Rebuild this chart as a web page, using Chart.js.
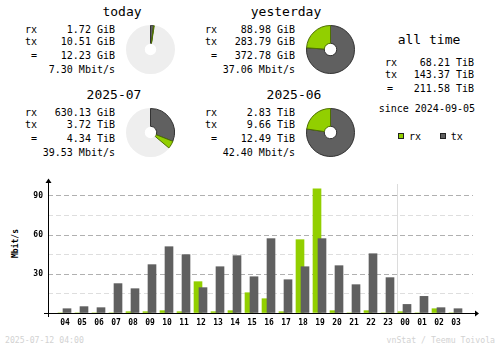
<!DOCTYPE html>
<html>
<head>
<meta charset="utf-8">
<script src="https://cdn.jsdelivr.net/npm/chart.js@4.4.1/dist/chart.umd.min.js"></script>
<style>
html, body { margin: 0; padding: 0; background: #fff; }
#wrap { position: relative; width: 500px; height: 348px; overflow: hidden; }
#wrap canvas, #wrap svg { position: absolute; }
#bars { left: 0; top: 170px; }
svg text { font-family: 'DejaVu Sans Mono', monospace; }
</style>
</head>
<body>
<div id="wrap">
  <svg id="labels" width="500" height="348" style="left:0;top:0"></svg>
  <canvas id="pie0" width="55" height="55" style="left:123px;top:22px"></canvas>
  <canvas id="pie1" width="55" height="55" style="left:303px;top:22px"></canvas>
  <canvas id="pie2" width="55" height="55" style="left:123px;top:105px"></canvas>
  <canvas id="pie3" width="55" height="55" style="left:303px;top:105px"></canvas>
  <canvas id="bars" width="500" height="160"></canvas>
</div>
<script>
// summary boxes
const periods = ['today', 'yesterday', '2025-07', '2025-06'];
const rxText = ['1.72 GiB', '88.98 GiB', '630.13 GiB', '2.83 TiB'];
const txText = ['10.51 GiB', '283.79 GiB', '3.72 TiB', '9.66 TiB'];
const totalText = ['12.23 GiB', '372.78 GiB', '4.34 TiB', '12.49 TiB'];
const rateText = ['7.30 Mbit/s', '37.06 Mbit/s', '39.53 Mbit/s', '42.40 Mbit/s'];
// same values in GiB for the rings
const rxGiB = [1.72, 88.98, 630.13, 2897.92];
const txGiB = [10.51, 283.79, 3809.28, 9891.84];
// how much of the ring is used (degrees)
const pieSpan = [9, 360, 130, 360];

const allTimeLabels = ['rx', 'tx', '='];
const allTimeText = ['68.21 TiB', '143.37 TiB', '211.58 TiB'];
const sinceDate = '2024-09-05';

// hourly bars, Mbit/s
const hours = ['04', '05', '06', '07', '08', '09', '10', '11', '12', '13', '14', '15',
               '16', '17', '18', '19', '20', '21', '22', '23', '00', '01', '02', '03'];
const rxRate = [0, 0, 0, 0, 1.0, 1.0, 1.8, 1.0, 24.1, 1.0, 1.8, 15.6,
                11.0, 1.0, 56.4, 95.6, 1.8, 0, 1.8, 0, 1.0, 0, 3.3, 0];
const txRate = [3.3, 4.9, 4.1, 22.6, 18.7, 37.2, 51.0, 44.9, 19.5, 35.6, 44.1, 27.9,
                57.2, 25.6, 35.6, 57.2, 36.4, 21.8, 45.6, 27.2, 6.6, 12.8, 4.1, 3.3];
const yTicks = [30, 60, 90];

const RX = '#92cf00', TX = '#606060';
const MONO = "'DejaVu Sans Mono', monospace";
Chart.defaults.font.family = MONO;
Chart.defaults.color = '#000';

// ---- text ----
const svg = document.getElementById('labels');
function txt(s, x, y, opts) {
    opts = opts || {};
    const t = document.createElementNS('http://www.w3.org/2000/svg', 'text');
    t.setAttribute('x', x);
    t.setAttribute('y', y);
    t.setAttribute('font-size', opts.size || 10);
    t.setAttribute('fill', opts.color || '#000');
    if (opts.anchor) t.setAttribute('text-anchor', opts.anchor);
    if (opts.weight) t.setAttribute('font-weight', opts.weight);
    if (opts.transform) t.setAttribute('transform', opts.transform);
    t.textContent = s;
    svg.appendChild(t);
    return t;
}
function rect(x, y, w, h, fill, stroke) {
    const r = document.createElementNS('http://www.w3.org/2000/svg', 'rect');
    r.setAttribute('x', x); r.setAttribute('y', y);
    r.setAttribute('width', w); r.setAttribute('height', h);
    r.setAttribute('fill', fill); r.setAttribute('stroke', stroke);
    svg.appendChild(r);
}

const boxPos = [
    { cx: 122, lab: 37, val: 115, top: 0 },
    { cx: 286, lab: 217, val: 295, top: 0 },
    { cx: 114, lab: 37, val: 115, top: 83 },
    { cx: 294, lab: 217, val: 295, top: 83 }
];
periods.forEach(function (p, i) {
    const b = boxPos[i];
    txt(p, b.cx, 16.3 + b.top, { size: 13, anchor: 'middle' });
    txt('rx', b.lab, 32.5 + b.top, { anchor: 'end' });
    txt(rxText[i], b.val, 32.5 + b.top, { anchor: 'end' });
    txt('tx', b.lab, 45 + b.top, { anchor: 'end' });
    txt(txText[i], b.val, 45 + b.top, { anchor: 'end' });
    txt('=', b.lab, 58.5 + b.top, { anchor: 'end' });
    txt(totalText[i], b.val, 58.5 + b.top, { anchor: 'end' });
    txt(rateText[i], b.val, 72.5 + b.top, { anchor: 'end' });
});

txt('all time', 429, 44.3, { size: 13, anchor: 'middle' });
const allY = [66, 78, 91.7];
allTimeLabels.forEach(function (l, i) {
    txt(l, i === 2 ? 387 : 385, allY[i]);
    txt(allTimeText[i], 474, allY[i], { anchor: 'end' });
});
txt('since ' + sinceDate, 378.7, 111.7);

rect(398.5, 133.5, 5, 5, RX, '#222');
txt('rx', 409, 140);
rect(440.5, 133.5, 5, 5, TX, '#222');
txt('tx', 450.7, 140);

txt('Mbit/s', 0, 0, { size: 8, weight: 'bold', anchor: 'middle', transform: 'translate(17.7,243.5) rotate(-90)' });
txt('2025-07-12 04:00', 5, 342.7, { size: 8.2, color: '#d2d2d2' });
txt('vnStat / Teemu Toivola', 495, 342.7, { size: 8.2, color: '#d2d2d2', anchor: 'end' });

// ---- rings ----
// light grey track under the used part of the ring
const ringTrack = {
    id: 'ringTrack',
    beforeDatasetsDraw(chart) {
        const arc = chart.getDatasetMeta(0).data[0];
        if (!arc) return;
        const ctx = chart.ctx;
        ctx.save();
        ctx.fillStyle = '#eeeeee';
        ctx.beginPath();
        ctx.arc(arc.x, arc.y, arc.outerRadius + 0.5, 0, Math.PI * 2);
        ctx.arc(arc.x, arc.y, arc.innerRadius - 0.5, 0, Math.PI * 2, true);
        ctx.fill();
        ctx.restore();
    }
};

periods.forEach(function (p, i) {
    new Chart(document.getElementById('pie' + i), {
        type: 'doughnut',
        data: {
            labels: ['tx', 'rx'],
            datasets: [{
                data: [txGiB[i], rxGiB[i]],
                circumference: pieSpan[i],
                backgroundColor: [TX, RX],
                borderColor: ['#333333', '#4e7000'],
                borderWidth: 1
            }, {
                // zero-width full circle, keeps the ring centred
                data: [1],
                circumference: 360,
                weight: 0,
                backgroundColor: 'rgba(0,0,0,0)',
                borderWidth: 0
            }]
        },
        options: {
            responsive: false,
            animation: false,
            events: [],
            radius: 24,
            cutout: 7,
            plugins: { legend: { display: false }, tooltip: { enabled: false } }
        },
        plugins: [ringTrack]
    });
});

// ---- hourly bars ----
const dayBreak = hours.indexOf('00') - 0.5;
const axisDecor = {
    id: 'axisDecor',
    beforeDatasetsDraw(chart) {
        const ctx = chart.ctx, a = chart.chartArea;
        const sx = Math.round(chart.scales.x.getPixelForValue(dayBreak));
        ctx.save();
        ctx.fillStyle = '#dcdcdc';
        ctx.fillRect(sx, a.top + 1, 1, a.bottom - a.top - 1);
        ctx.restore();
    },
    afterDraw(chart) {
        const ctx = chart.ctx, a = chart.chartArea;
        const L = Math.round(a.left), B = Math.round(a.bottom);
        ctx.save();
        ctx.fillStyle = '#000';
        ctx.fillRect(L - 4, B, a.right - L + 6, 1);
        ctx.fillRect(L, a.top - 2, 1, B - a.top + 6);
        ctx.beginPath();
        ctx.moveTo(a.right + 2, B - 2.5);
        ctx.lineTo(a.right + 6, B + 0.5);
        ctx.lineTo(a.right + 2, B + 3.5);
        ctx.closePath();
        ctx.fill();
        ctx.beginPath();
        ctx.moveTo(L - 2.5, a.top);
        ctx.lineTo(L + 0.5, a.top - 4.5);
        ctx.lineTo(L + 3.5, a.top);
        ctx.closePath();
        ctx.fill();
        ctx.restore();
    }
};

new Chart(document.getElementById('bars'), {
    type: 'bar',
    data: {
        datasets: [{
            label: 'tx',
            data: txRate.map(function (v, i) { return { x: i + 2 / 17, y: v }; }),
            backgroundColor: TX,
            barThickness: 8,
            grouped: false,
            order: 0
        }, {
            label: 'rx',
            data: rxRate.map(function (v, i) { return { x: i - 3 / 17, y: v }; }),
            backgroundColor: RX,
            barThickness: 8,
            grouped: false,
            order: 1
        }]
    },
    options: {
        responsive: false,
        animation: false,
        events: [],
        layout: { padding: { top: 13, right: 27, left: 0, bottom: 0 } },
        plugins: { legend: { display: false }, tooltip: { enabled: false } },
        scales: {
            x: {
                type: 'linear',
                min: -1,
                max: 24,
                offset: false,
                grid: { display: false },
                border: { display: false },
                ticks: {
                    stepSize: 1,
                    autoSkip: false,
                    maxRotation: 0,
                    padding: -3,
                    font: { size: 8, weight: 'bold' },
                    callback: function (v) { return hours[v] !== undefined ? hours[v] : ''; }
                },
                afterFit: function (s) { s.height = 17; }
            },
            y: {
                min: 0,
                max: 100,
                border: { display: false, dash: [5, 3] },
                grid: {
                    drawTicks: false,
                    color: function (c) {
                        const v = c.tick && c.tick.value;
                        if (!v) return 'rgba(0,0,0,0)';
                        return v % 30 === 0 ? '#b0b0b0' : '#dedede';
                    }
                },
                ticks: {
                    stepSize: 15,
                    includeBounds: false,
                    padding: 5,
                    font: { size: 8, weight: 'bold' },
                    callback: function (v) { return yTicks.includes(v) ? String(v) : ''; }
                },
                afterFit: function (s) { s.width = 48; }
            }
        }
    },
    plugins: [axisDecor]
});
</script>
</body>
</html>
